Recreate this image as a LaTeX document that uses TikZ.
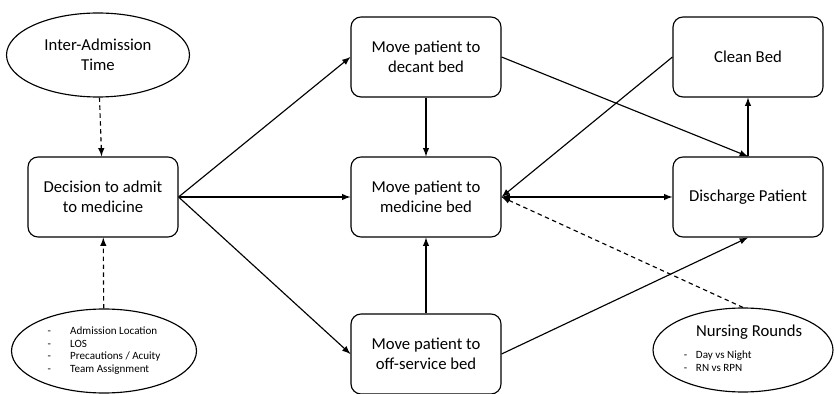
\documentclass[tikz,border=0pt]{standalone}
\usepackage{fontspec}
\setmainfont{Carlito}
\usepackage{tikz}
\usetikzlibrary{positioning}
\usetikzlibrary{shapes.geometric}
\usetikzlibrary{arrows}

\tikzset{
  stepbox/.style={draw, rounded corners=0.2cm, minimum width=3cm, minimum height=1.6cm,
    align=center, font=\fontsize{9.5}{11.5}\selectfont},
  factor/.style={draw, ellipse, inner sep=0pt, minimum height=1.68cm, align=center},
  flow/.style={->,>=latex},
  infl/.style={->,>=latex,dash pattern=on 2.5pt off 2pt},
}

\begin{document}
\begin{tikzpicture}[x=0.02cm,y=-0.02cm,line width=0.65pt]
\useasboundingbox (0,0) rectangle (834,394);
% factors
\node[factor, minimum width=3.66cm, font=\fontsize{9.5}{11.5}\selectfont] (ia) at (98,55) {Inter-Admission\\Time};
\node[factor, minimum width=3.7cm] (fac) at (104,351) {\fontsize{6.3}{7.2}\selectfont
  \begin{tabular}{@{}l@{\hspace{11pt}}l@{}}
  - & Admission Location\\
  - & LOS\\
  - & Precautions / Acuity\\
  - & Team Assignment
  \end{tabular}};
\node[factor, minimum width=3.6cm] (nr) at (743,350) {\fontsize{6.3}{7.4}\selectfont
  \begin{tabular}{@{}l@{\hspace{5pt}}l@{}}
  & {\fontsize{9.5}{11.5}\selectfont Nursing Rounds}\\[5pt]
  - & Day vs Night\\
  - & RN vs RPN
  \end{tabular}};
% steps
\node[stepbox] (dec) at (103,197) {Decision to admit\\to medicine};
\node[stepbox] (decant) at (426,57) {Move patient to\\decant bed};
\node[stepbox] (med) at (426,197) {Move patient to\\medicine bed};
\node[stepbox] (off) at (426,354) {Move patient to\\off-service bed};
\node[stepbox] (clean) at (748,57) {Clean Bed};
\node[stepbox] (dis) at (748,197) {Discharge Patient};
% influences
\draw[infl] (ia) -- (dec);
\draw[infl] (fac) -- (dec);
\draw[infl] (nr.north) -- (med.east);
% flow
\draw[flow] (dec.east) -- (decant.west);
\draw[flow] (dec.east) -- (med.west);
\draw[flow] (dec.east) -- (off.west);
\draw[flow] (decant) -- (med);
\draw[flow] (off) -- (med);
\draw[flow] (decant.east) -- (dis.north);
\draw[flow] (off.east) -- (dis.south);
\draw[flow] (clean.west) -- (med.east);
\draw[flow,<->] (med.east) -- (dis.west);
\draw[flow] (dis) -- (clean);
\end{tikzpicture}
\end{document}
